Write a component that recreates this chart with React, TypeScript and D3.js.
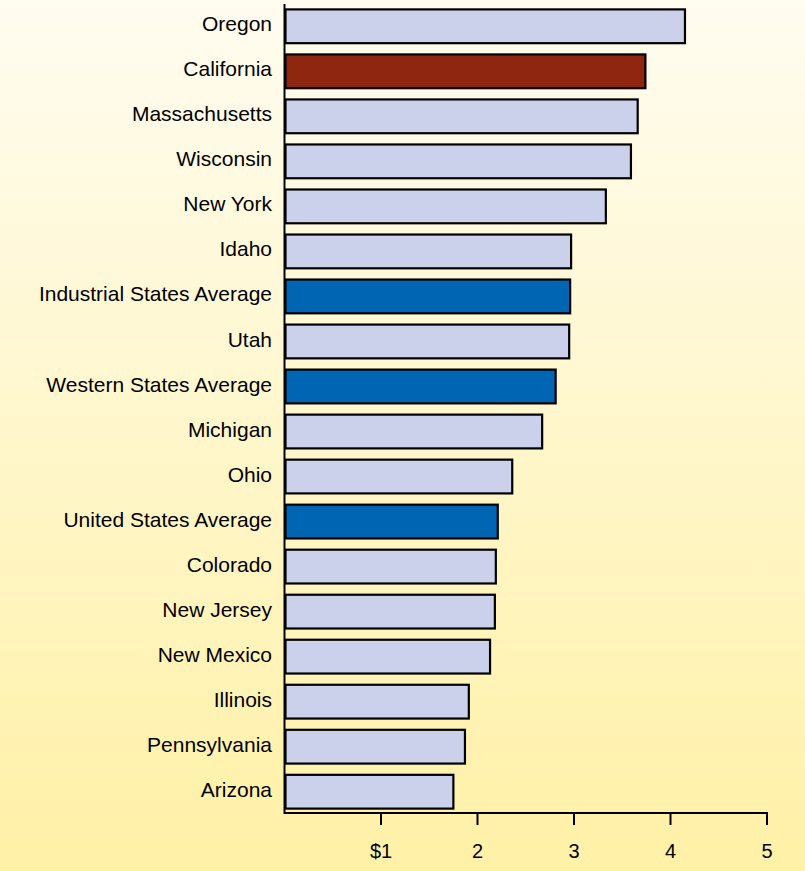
import React from "react";
import * as d3 from "d3";

const categories = [
  "Oregon", "California", "Massachusetts", "Wisconsin", "New York", "Idaho",
  "Industrial States Average", "Utah", "Western States Average", "Michigan", "Ohio",
  "United States Average", "Colorado", "New Jersey", "New Mexico", "Illinois",
  "Pennsylvania", "Arizona",
];
const values = [4.15, 3.74, 3.66, 3.59, 3.33, 2.97, 2.96, 2.95, 2.81, 2.67, 2.36, 2.21, 2.19, 2.18, 2.13, 1.91, 1.87, 1.75];
const kinds = ["state", "highlight", "state", "state", "state", "state", "average", "state", "average", "state", "state", "average", "state", "state", "state", "state", "state", "state"];
const tickValues = [1, 2, 3, 4, 5];
const tickLabels = ["$1", "2", "3", "4", "5"];

const W = 805;
const H = 871;
const fillFor: Record<string, string> = {
  state: "#CCD1EB",
  highlight: "#8E2610",
  average: "#0066B3",
};

export default function App() {
  const x = d3.scaleLinear().domain([0, 5]).range([284.5, 767]);
  const y = d3.scaleBand<string>().domain(categories).range([4, 814]).paddingInner(0.25).paddingOuter(0.12);
  const axisY = 813;
  return (
    <svg width={W} height={H} style={{ position: "absolute", left: 0, top: 0 }} fontFamily="'Liberation Sans', Arial, sans-serif">
      <defs>
        <linearGradient id="bg" x1="0" y1="0" x2="0" y2="1">
          <stop offset="0" stopColor="#FFFCF0" />
          <stop offset="1" stopColor="#FFF1A6" />
        </linearGradient>
      </defs>
      <rect x={0} y={0} width={W} height={H} fill="url(#bg)" />
      {categories.map((c, i) => (
        <g key={c}>
          <rect
            x={x(0) + 1}
            y={y(c)!}
            width={x(values[i]) - x(0) - 1}
            height={y.bandwidth()}
            fill={fillFor[kinds[i]]}
            stroke="#000"
            strokeWidth={2.2}
          />
          <text x={272} y={y(c)! + y.bandwidth() / 2} dy="0.24em" textAnchor="end" fontSize={21} fill="#000">
            {c}
          </text>
        </g>
      ))}
      <line x1={x(0)} x2={x(0)} y1={4} y2={axisY + 1} stroke="#000" strokeWidth={2} />
      <line x1={x(0)} x2={x(5) + 1} y1={axisY} y2={axisY} stroke="#000" strokeWidth={2} />
      {tickValues.map((t, i) => (
        <g key={t}>
          <line x1={x(t)} x2={x(t)} y1={axisY} y2={axisY + 12} stroke="#000" strokeWidth={2} />
          <text x={x(t)} y={858} textAnchor="middle" fontSize={20} fill="#000">
            {tickLabels[i]}
          </text>
        </g>
      ))}
    </svg>
  );
}
